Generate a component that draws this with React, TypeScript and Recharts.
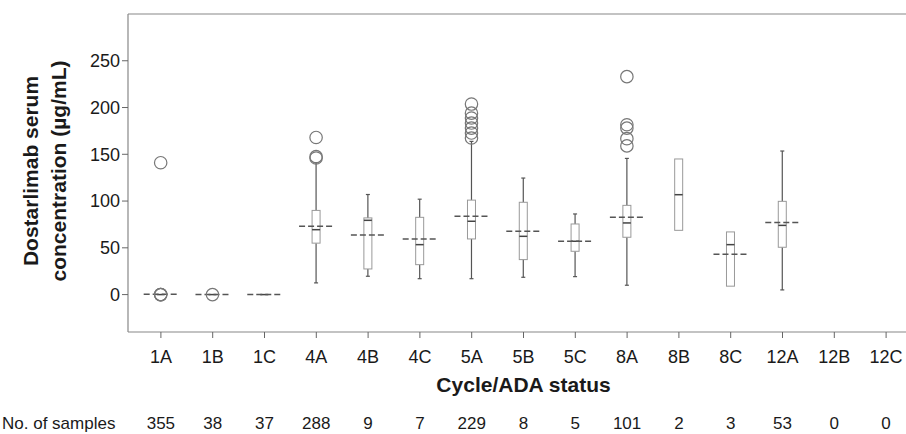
import React from "react";
import { ComposedChart, Bar, XAxis, YAxis, ReferenceLine } from "recharts";

const categories = ["1A", "1B", "1C", "4A", "4B", "4C", "5A", "5B", "5C", "8A", "8B", "8C", "12A", "12B", "12C"];
const sampleCounts = [355, 38, 37, 288, 9, 7, 229, 8, 5, 101, 2, 3, 53, 0, 0];
const whiskerLow = [null, null, null, 12.5, 19.6, 17, 17, 18.5, 19.2, 10, null, null, 5, null, null];
const q1 = [0, 0, 0, 55, 27.4, 32, 59.5, 37.4, 46.3, 61.3, 68.7, 9, 50.6, null, null];
const medians = [0, 0, 0, 69.4, 79.4, 53.4, 78.4, 62.3, 57, 76.6, 106.8, 53.4, 74, null, null];
const q3 = [0, 0, 0, 90, 82, 82.6, 101, 98.7, 75.5, 95.4, 145, 67, 99.7, null, null];
const whiskerHigh = [null, null, null, 141, 107, 102, 163.8, 124.6, 86.2, 145.6, null, null, 153.5, null, null];
const means = [0.4, 0, 0, 73, 63.8, 59.5, 83.7, 67.7, 57, 82.6, null, 43, 77, null, null];
const outliers: number[][] = [
  [0, 0, 0, 141],
  [0],
  [],
  [146, 147.5, 168],
  [],
  [],
  [167.4, 172.7, 178, 183.4, 188.8, 194, 203.7],
  [],
  [],
  [159, 166.7, 178, 181.6, 233],
  [],
  [],
  [],
  [],
  [],
];
const yTicks = [0, 50, 100, 150, 200, 250];

const FONT = '"Liberation Sans", Arial, sans-serif';

const rows = categories.map((cat, i) => {
  const vals = [whiskerLow[i], q1[i], medians[i], q3[i], whiskerHigh[i], means[i], ...outliers[i]].filter(
    (v) => v != null
  ) as number[];
  return {
    cat,
    count: sampleCounts[i],
    wLo: whiskerLow[i],
    q1: q1[i],
    med: medians[i],
    q3: q3[i],
    wHi: whiskerHigh[i],
    mean: means[i],
    out: outliers[i],
    lo: vals.length ? Math.min(...vals) : null,
    hi: vals.length ? Math.max(...vals) : null,
  };
});

// one range bar per category; everything inside is placed relative to its lo/hi pixels
function BoxShape(props: any) {
  const { x, y, width, height, payload } = props;
  if (!payload || payload.lo == null) return null;
  const top = Math.min(y, y + height);
  const bottom = Math.max(y, y + height);
  const span = payload.hi - payload.lo;
  const py = (v: number) => (span === 0 ? top : bottom - ((v - payload.lo) / span) * (bottom - top));
  const cx = x + width / 2;
  const bw = 4;
  return (
    <g>
      {payload.wHi != null && (
        <g stroke="#555" strokeWidth={1.2}>
          <line x1={cx} x2={cx} y1={py(payload.q3)} y2={py(payload.wHi)} />
          <line x1={cx - 2} x2={cx + 2} y1={py(payload.wHi)} y2={py(payload.wHi)} />
        </g>
      )}
      {payload.wLo != null && (
        <g stroke="#555" strokeWidth={1.2}>
          <line x1={cx} x2={cx} y1={py(payload.q1)} y2={py(payload.wLo)} />
          <line x1={cx - 2} x2={cx + 2} y1={py(payload.wLo)} y2={py(payload.wLo)} />
        </g>
      )}
      {payload.q1 != null && (
        <rect
          x={cx - bw}
          y={py(payload.q3)}
          width={bw * 2}
          height={py(payload.q1) - py(payload.q3)}
          fill="#fff"
          stroke="#999"
          strokeWidth={1}
        />
      )}
      {payload.med != null && (
        <line x1={cx - bw} x2={cx + bw} y1={py(payload.med)} y2={py(payload.med)} stroke="#444" strokeWidth={1.5} />
      )}
      {payload.mean != null && (
        <line
          x1={cx - 17}
          x2={cx + 17}
          y1={py(payload.mean)}
          y2={py(payload.mean)}
          stroke="#555"
          strokeWidth={1.5}
          strokeDasharray="6 3"
        />
      )}
      {payload.out.map((v: number, k: number) => (
        <circle key={k} cx={cx} cy={py(v)} r={6.2} fill="none" stroke="#777" strokeWidth={1.2} />
      ))}
    </g>
  );
}

function CatTick(props: any) {
  const { x, y, payload, index } = props;
  return (
    <g fontFamily={FONT}>
      <text x={x} y={y + 23} textAnchor="middle" fontSize={18} fill="#1a1a1a">
        {payload.value}
      </text>
      <text x={x} y={y + 89} textAnchor="middle" fontSize={17} fill="#1a1a1a">
        {sampleCounts[index]}
      </text>
    </g>
  );
}

function XTitle(props: any) {
  const vb = props.viewBox || { x: 128, y: 332, width: 791 };
  return (
    <g fontFamily={FONT} fill="#1a1a1a">
      <text x={vb.x + vb.width / 2} y={vb.y + 60} textAnchor="middle" fontSize={21} fontWeight="bold">
        Cycle/ADA status
      </text>
      <text x={2} y={vb.y + 97} textAnchor="start" fontSize={17}>
        No. of samples
      </text>
    </g>
  );
}

function YTitle(props: any) {
  const vb = props.viewBox || { x: 0, y: 14, width: 128, height: 318 };
  const cy = vb.y + vb.height / 2 - 2;
  return (
    <g fontFamily={FONT} fill="#1a1a1a" fontSize={21} fontWeight="bold">
      <text x={38} y={cy} textAnchor="middle" transform={`rotate(-90, 38, ${cy})`}>
        Dostarlimab serum
      </text>
      <text x={66} y={cy} textAnchor="middle" transform={`rotate(-90, 66, ${cy})`}>
        concentration (µg/mL)
      </text>
    </g>
  );
}

export default function App() {
  return (
    <div
      style={{
        position: "absolute",
        left: 0,
        top: 0,
        width: 906,
        height: 434,
        overflow: "hidden",
        background: "#fff",
        fontFamily: FONT,
      }}
    >
      <ComposedChart width={919} height={434} data={rows} margin={{ top: 14, right: 0, left: 0, bottom: 0 }}>
        <XAxis
          dataKey="cat"
          height={102}
          padding={{ left: 7, right: 7 }}
          axisLine={{ stroke: "#888", strokeWidth: 1.2 }}
          tickLine={{ stroke: "#666" }}
          tickSize={6}
          tick={<CatTick />}
          interval={0}
          label={{ content: (p: any) => <XTitle {...p} /> }}
        />
        <YAxis
          width={128}
          domain={[-40, 300]}
          ticks={yTicks}
          type="number"
          allowDataOverflow
          axisLine={{ stroke: "#888", strokeWidth: 1.2 }}
          tickLine={{ stroke: "#666" }}
          tickSize={6}
          tick={{ fontSize: 18, fill: "#1a1a1a", fontFamily: FONT }}
          label={{ content: (p: any) => <YTitle {...p} /> }}
        />
        <ReferenceLine y={300} stroke="#888" strokeWidth={1.2} />
        <Bar
          dataKey={(d: any) => (d.lo == null ? null : [d.lo, d.hi])}
          shape={<BoxShape />}
          isAnimationActive={false}
        />
      </ComposedChart>
    </div>
  );
}
